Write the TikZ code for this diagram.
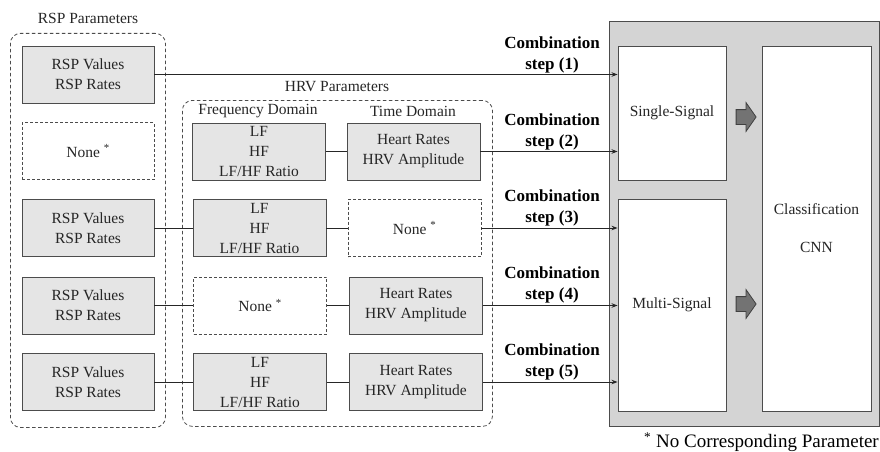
\documentclass[tikz,border=0pt]{standalone}
\usepackage{fontspec}
\setmainfont{Liberation Serif}
\usetikzlibrary{arrows.meta,shapes.arrows}
\begin{document}
\begin{tikzpicture}[x=1pt,y=-1pt,
 txt/.style={font=\fontsize{15.5}{20}\selectfont, align=center, text=black!85},
 gbox/.style={txt, draw=black!70, fill=black!10, line width=0.9pt, minimum width=132pt, minimum height=57pt, inner sep=0pt},
 nbox/.style={txt, draw=black!70, dash pattern=on 3pt off 2pt, line width=0.8pt, minimum width=132pt, minimum height=57pt, inner sep=0pt},
 group/.style={draw=black!70, dash pattern=on 3.5pt off 2.5pt, line width=0.8pt, rounded corners=10pt, inner sep=0pt, anchor=north west},
 wbox/.style={txt, draw=black!70, fill=white, line width=0.9pt, inner sep=0pt},
 link/.style={draw=black!85, line width=1pt},
 arr/.style={link, -{Stealth[length=6pt,width=4.5pt]}},
 comb/.style={font=\fontsize{17}{21}\selectfont\bfseries, align=center, anchor=south, inner sep=0pt},
 blk/.style={single arrow, draw=black!75, fill=black!55, line width=0.8pt, minimum height=19pt, minimum width=28pt, inner sep=7pt, single arrow head extend=7pt, single arrow tip angle=110}]
\useasboundingbox (0,0) rectangle (880,452);

% groups
\node[group, minimum width=155pt, minimum height=394pt] (rspg) at (10,33) {};
\node[group, minimum width=310pt, minimum height=326pt] (hrvg) at (182,100) {};
\node[txt] (rsplab) at (88,18) {RSP Parameters};
\node[txt] (hrvlab) at (337,87) {HRV Parameters};
\node[txt] (fdlab) at (258,111) {Frequency Domain};
\node[txt] (tdlab) at (413,111) {Time Domain};

% RSP column
\node[gbox] (r1) at (88,74.5) {RSP Values\\RSP Rates};
\node[nbox] (r2) at (88,151) {None \textsuperscript{*}};
\node[gbox] (r3) at (88,228) {RSP Values\\RSP Rates};
\node[gbox] (r4) at (88,305.5) {RSP Values\\RSP Rates};
\node[gbox] (r5) at (88,382) {RSP Values\\RSP Rates};

% frequency column
\node[gbox, minimum width=133pt] (f2) at (259,151.5) {LF\\HF\\LF/HF Ratio};
\node[gbox, minimum width=133pt] (f3) at (259.5,228) {LF\\HF\\LF/HF Ratio};
\node[nbox, minimum width=133pt] (f4) at (260,305.5) {None \textsuperscript{*}};
\node[gbox, minimum width=133pt] (f5) at (260,382) {LF\\HF\\LF/HF Ratio};

% time column
\node[gbox, minimum width=133pt] (t2) at (413.5,151.5) {Heart Rates\\HRV Amplitude};
\node[nbox, minimum width=133pt] (t3) at (414.5,228) {None \textsuperscript{*}};
\node[gbox, minimum width=133pt] (t4) at (416,305.5) {Heart Rates\\HRV Amplitude};
\node[gbox, minimum width=133pt] (t5) at (416,382) {Heart Rates\\HRV Amplitude};

% right panel
\node[draw=black!70, fill=black!17, line width=1pt, minimum width=270pt, minimum height=405pt, anchor=north west, inner sep=0pt] (panel) at (609,21) {};
\node[wbox, minimum width=108pt, minimum height=134pt] (ss) at (672,113) {Single-Signal};
\node[wbox, minimum width=108pt, minimum height=212pt] (ms) at (672,305) {Multi-Signal};
\node[wbox, minimum width=109pt, minimum height=365pt] (cnn) at (816.5,228.5) {Classification\\[18pt]CNN};
\node[blk] (b1) at (743.5,117) {};
\node[blk] (b2) at (743.5,304) {};

% connectors
\draw[arr] (r1.east) -- (r1.east -| ss.west);
\draw[link] (f2.east) -- (t2.west);
\draw[arr] (t2.east) -- (t2.east -| ss.west);
\draw[link] (r3.east) -- (f3.west);
\draw[link] (f3.east) -- (t3.west);
\draw[arr] (t3.east) -- (t3.east -| ms.west);
\draw[link] (r4.east) -- (f4.west);
\draw[link] (f4.east) -- (t4.west);
\draw[arr] (t4.east) -- (t4.east -| ms.west);
\draw[link] (r5.east) -- (f5.west);
\draw[link] (f5.east) -- (t5.west);
\draw[arr] (t5.east) -- (t5.east -| ms.west);

% combination labels
\node[comb] (c1) at (552,73) {Combination\\step (1)};
\node[comb] (c2) at (552,150) {Combination\\step (2)};
\node[comb] (c3) at (552,226) {Combination\\step (3)};
\node[comb] (c4) at (552,303) {Combination\\step (4)};
\node[comb] (c5) at (552,380) {Combination\\step (5)};

% footnote
\node[font=\fontsize{19}{22}\selectfont, anchor=east, inner sep=0pt] (fn) at (879,442) {\textsuperscript{*} No Corresponding Parameter};
\end{tikzpicture}
\end{document}
